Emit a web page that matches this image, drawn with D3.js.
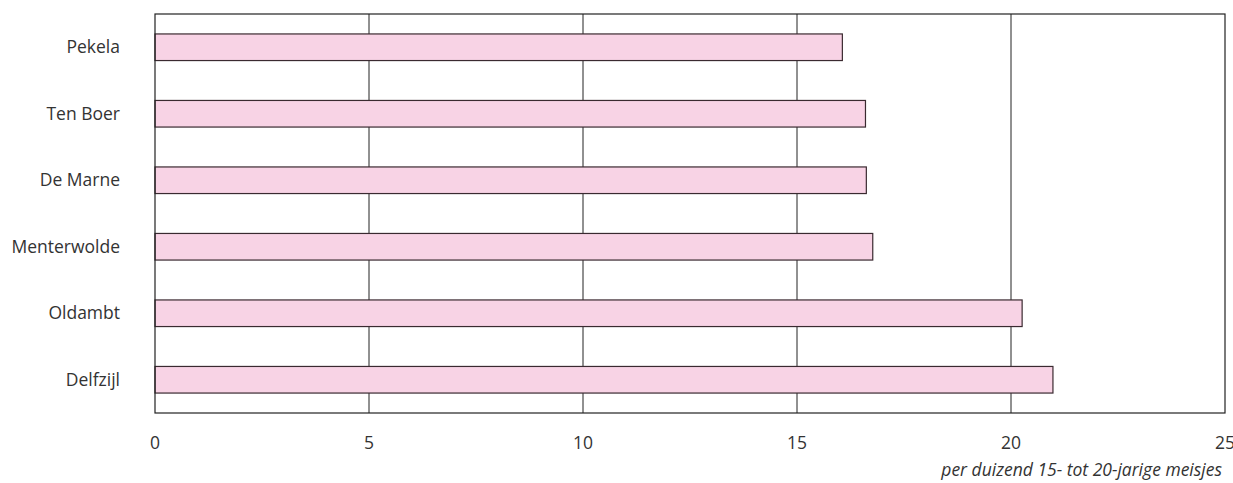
<!DOCTYPE html>
<html><head><meta charset="utf-8">
<script src="https://cdn.jsdelivr.net/npm/d3@7"></script>
<style>body{margin:0;background:#fff}svg{display:block}text{font-family:"Open Sans",sans-serif;fill:#333}</style>
</head><body>
<svg id="c" width="1233" height="483"></svg>
<script>
const categories = ["Pekela","Ten Boer","De Marne","Menterwolde","Oldambt","Delfzijl"];
const values = [16.06, 16.6, 16.62, 16.77, 20.26, 20.98];
const ticks = [0,5,10,15,20,25];
const axisTitle = "per duizend 15- tot 20-jarige meisjes";

const svg = d3.select("#c");
const L=155, R=1225, T=14, B=413;
const x = d3.scaleLinear().domain([0,25]).range([L,R]);
const y = d3.scaleBand().domain(categories).range([T,B]).paddingInner(0.6).paddingOuter(0.3);

svg.append("g").selectAll("line").data(ticks.filter(t=>t>0&&t<25)).join("line")
  .attr("x1",d=>x(d)).attr("x2",d=>x(d)).attr("y1",T).attr("y2",B)
  .attr("stroke","#222").attr("stroke-width",1);

svg.append("g").selectAll("rect").data(categories).join("rect")
  .attr("x",x(0)).attr("y",d=>y(d)).attr("width",(d,i)=>x(values[i])-x(0)).attr("height",y.bandwidth())
  .attr("fill","#f8d3e5").attr("stroke","#3a2a30").attr("stroke-width",1.2);

svg.append("rect").attr("x",L).attr("y",T).attr("width",R-L).attr("height",B-T)
  .attr("fill","none").attr("stroke","#222").attr("stroke-width",1.2);

svg.append("g").selectAll("text").data(categories).join("text")
  .attr("x",120).attr("y",d=>y(d)+y.bandwidth()/2).attr("dy","0.35em")
  .attr("text-anchor","end").attr("font-size",17.5).text(d=>d);

svg.append("g").selectAll("text").data(ticks).join("text")
  .attr("x",d=>x(d)).attr("y",449).attr("text-anchor","middle").attr("font-size",17.5).text(d=>d);

svg.append("text").attr("x",1222).attr("y",476).attr("text-anchor","end")
  .attr("font-size",17.5).attr("font-style","italic").text(axisTitle);
</script>
</body></html>
